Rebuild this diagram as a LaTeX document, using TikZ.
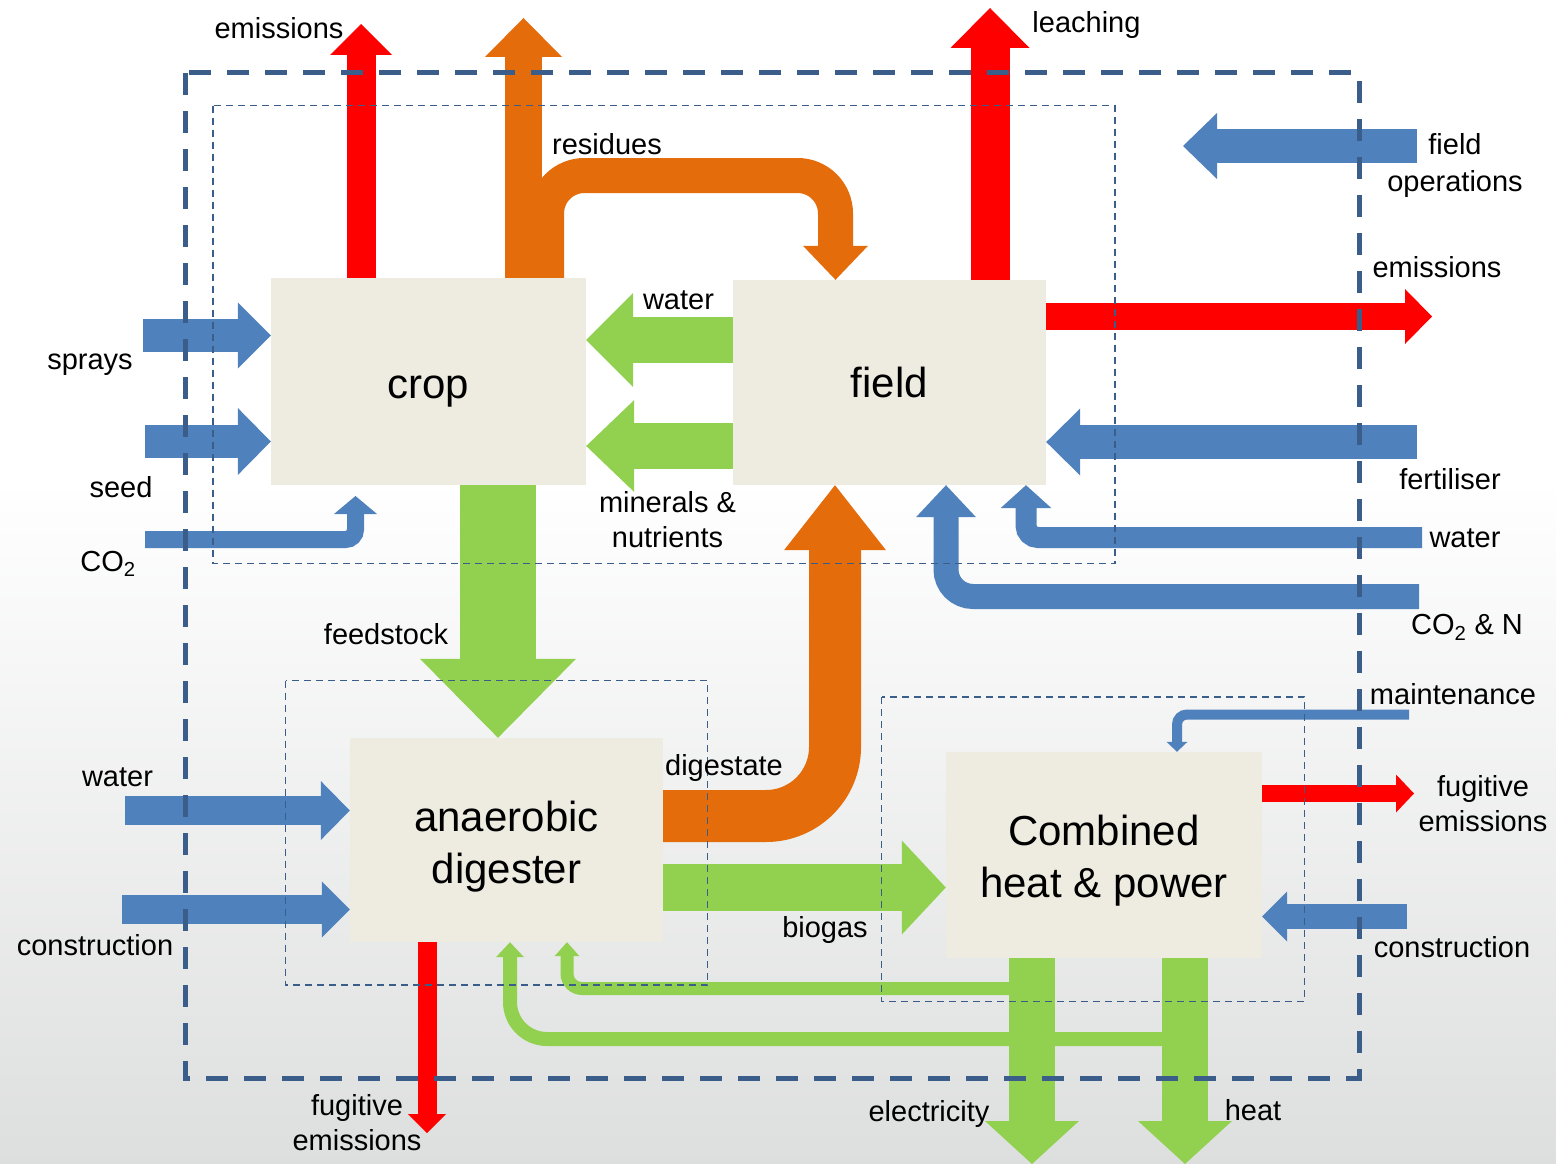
\documentclass[tikz,border=0pt]{standalone}
\usepackage{fontspec}
\setmainfont{Liberation Sans}
\usetikzlibrary{arrows.meta,calc}
\newcommand{\OUTERPT}{5pt}
\newcommand{\INNERPT}{1.6pt}
\definecolor{myblue}{rgb}{0.310,0.506,0.741}
\definecolor{mygreen}{rgb}{0.573,0.816,0.314}
\definecolor{myred}{rgb}{1.0,0.0,0.0}
\definecolor{myorange}{rgb}{0.894,0.424,0.039}
\definecolor{mybox}{rgb}{0.933,0.925,0.882}
\definecolor{mydash}{rgb}{0.227,0.365,0.541}
\definecolor{mybottom}{rgb}{0.867,0.875,0.871}
\tikzset{
	blockflow/.style n args={4}{draw=#1,line width=#2,-{Triangle[length=#3,width=#4,line width=0pt]}},
	unitbox/.style={fill=mybox,inner sep=0pt},
	unitname/.style={inner sep=0pt,align=center,font=\fontsize{42}{52}\selectfont},
	lbl/.style={inner sep=0pt,align=center,font=\fontsize{29}{35}\selectfont},
	outerline/.style={draw=mydash,line width=\OUTERPT,dash pattern=on 22pt off 16pt},
	innerline/.style={draw=mydash,line width=\INNERPT,dash pattern=on 7pt off 5pt},
}
\begin{document}
\begin{tikzpicture}[x=1pt,y=-1pt]
	\useasboundingbox (0,0) rectangle (1556,1164);
	\fill[white] (0,0) rectangle (1556,481);
	\shade[top color=white,bottom color=mybottom] (0,480) rectangle (1556,1164);

		%% units
		\node[unitbox,minimum width=315pt,minimum height=207pt] (crop) at (428.5,381.5) {};
		\node[unitbox,minimum width=313pt,minimum height=205pt] (field) at (889.5,382.5) {};
		\node[unitbox,minimum width=313pt,minimum height=204pt] (digester) at (506.5,840) {};
		\node[unitbox,minimum width=316pt,minimum height=206pt] (chp) at (1104,855) {};
		\node[unitname] (cropname) at ($(crop.center)+(0,10)$) {crop};
		\node[unitname] (fieldname) at (field.center) {field};
		\node[unitname] (digname) at ($(digester.center)+(0,7)$) {anaerobic\\digester};
		\node[unitname] (chpname) at ($(chp.center)+(0,6)$) {Combined\\heat \& power};

		%% free ends
		\coordinate (emtop) at (361,24);
		\coordinate (restop) at (523.5,18);
		\coordinate (resbend) at (546.5,175.5);
		\coordinate (resend) at (835.5,282);
		\coordinate (leach) at (990,8);
		\coordinate (fopsin) at (1417,146);
		\coordinate (fopsout) at (1183,146);
		\coordinate (femout) at (1432,316.5);
		\coordinate (spraysin) at (143,335.5);
		\coordinate (seedin) at (145,441.5);
		\coordinate (coin) at (145,539.5);
		\coordinate (cotip) at (355.5,496);
		\coordinate (gwrow) at (0,340);
		\coordinate (gmrow) at (0,446);
		\coordinate (fertin) at (1417,442);
		\coordinate (fwin) at (1422,537.5);
		\coordinate (fwcol) at (1026,537.5);
		\coordinate (cnin) at (1419,596.5);
		\coordinate (cncol) at (946,596.5);
		\coordinate (feedcol) at (498,600);
		\coordinate (digcol) at (835,816);
		\coordinate (adwin) at (125,810.5);
		\coordinate (adconin) at (122,909.5);
		\coordinate (adfug) at (427,1133);
		\coordinate (bgrow) at (0,887.5);
		\coordinate (mntin) at (1409,714.5);
		\coordinate (mntcol) at (1177,714.5);
		\coordinate (chpfug) at (1414,793.5);
		\coordinate (chpcon) at (1407,916.5);
		\coordinate (elec) at (1032,1164);
		\coordinate (heatout) at (1185,1164);
		\coordinate (loopa) at (1009,988.5);
		\coordinate (loopacol) at (567,988.5);
		\coordinate (loopb) at (1163,1039);
		\coordinate (loopbcol) at (510,1039);

		%% blue inputs
		\draw[blockflow={myblue}{34pt}{34pt}{66pt}] (fopsin) -- (fopsout);
		\draw[blockflow={myblue}{33pt}{33pt}{66pt}] (spraysin) -- (crop.west |- spraysin);
		\draw[blockflow={myblue}{33pt}{33pt}{67pt}] (seedin) -- (crop.west |- seedin);
		\draw[blockflow={myblue}{17pt}{18pt}{43pt},rounded corners=10pt] (coin) -| (cotip);
		\draw[blockflow={myblue}{34pt}{34pt}{67pt}] (fertin) -- (field.east |- fertin);
		\draw[blockflow={myblue}{21pt}{23pt}{51pt},rounded corners=12pt] (fwin) -| (field.south -| fwcol);
		\draw[blockflow={myblue}{25pt}{32pt}{60pt},rounded corners=27pt] (cnin) -| (field.south -| cncol);
		\draw[blockflow={myblue}{29pt}{29pt}{59pt}] (adwin) -- (digester.west |- adwin);
		\draw[blockflow={myblue}{29pt}{28pt}{56pt}] (adconin) -- (digester.west |- adconin);
		\draw[blockflow={myblue}{10pt}{10pt}{21pt},rounded corners=10pt] (mntin) -| (chp.north -| mntcol);
		\draw[blockflow={myblue}{25pt}{25pt}{50pt}] (chpcon) -- (chp.east |- chpcon);

		%% red losses
		\draw[blockflow={myred}{29pt}{31pt}{62pt}] (crop.north -| emtop) -- (emtop);
		\draw[blockflow={myred}{39pt}{40pt}{79pt}] (field.north -| leach) -- (leach);
		\draw[blockflow={myred}{27pt}{27pt}{55pt}] (field.east |- femout) -- (femout);
		\draw[blockflow={myred}{19pt}{19pt}{38pt}] (digester.south -| adfug) -- (adfug);
		\draw[blockflow={myred}{17pt}{18pt}{38pt}] (chp.east |- chpfug) -- (chpfug);

		%% orange residues and digestate
		\draw[blockflow={myorange}{37pt}{39pt}{77pt}] (crop.north -| restop) -- (restop);
		\draw[blockflow={myorange}{35pt}{34pt}{65pt},rounded corners=38pt] (crop.north -| resbend) -- (resbend) -| (field.north -| resend);
		\draw[blockflow={myorange}{52pt}{65pt}{102pt},rounded corners=69pt] (digester.east |- digcol) -| (field.south -| digcol);

		%% green flows
		\draw[blockflow={mygreen}{46pt}{47pt}{94pt}] (field.west |- gwrow) -- (crop.east |- gwrow);
		\draw[blockflow={mygreen}{46pt}{48pt}{92pt}] (field.west |- gmrow) -- (crop.east |- gmrow);
		\draw[blockflow={mygreen}{76pt}{79pt}{156pt}] (crop.south -| feedcol) -- (digester.north -| feedcol);
		\draw[blockflow={mygreen}{47pt}{44pt}{94pt}] (digester.east |- bgrow) -- (chp.west |- bgrow);
		\draw[blockflow={mygreen}{13pt}{14pt}{25pt},rounded corners=15pt] (loopa) -| (digester.south -| loopacol);
		\draw[blockflow={mygreen}{14pt}{15pt}{28pt},rounded corners=37pt] (loopb) -| (digester.south -| loopbcol);
		\draw[blockflow={mygreen}{46pt}{43pt}{94pt}] (chp.south -| elec) -- (elec);
		\draw[blockflow={mygreen}{46pt}{43pt}{94pt}] (chp.south -| heatout) -- (heatout);

		%% boundaries
		\draw[outerline] (185,73) rectangle (1359,1078);
		\draw[innerline] (213,105.5) rectangle (1115,563.5);
		\draw[innerline] (285.5,680.5) rectangle (707.5,985);
		\draw[innerline] (881.5,697) rectangle (1304.5,1001.5);

		%% labels
		\node[lbl] (lemtop) at (279,28) {emissions};
		\node[lbl] (lres) at (607,144) {residues};
		\node[lbl] (lleach) at (1086.5,25) {leaching};
		\node[lbl,font=\fontsize{29}{37}\selectfont] (lfops) at (1455,166) {field\\operations};
		\node[lbl] (lfem) at (1437,267.5) {emissions};
		\node[lbl] (lsprays) at (90,364.5) {sprays};
		\node[lbl] (lseed) at (121,487) {seed};
		\node[lbl] (lco) at (108,564) {CO\textsubscript{2}};
		\node[lbl] (lgw) at (678.5,300) {water};
		\node[lbl] (lgm) at (667.5,519.5) {minerals \&\\nutrients};
		\node[lbl] (lfert) at (1450,479) {fertiliser};
		\node[lbl] (lfw) at (1465,538.5) {water};
		\node[lbl] (lcn) at (1467,627.5) {CO\textsubscript{2} \& N};
		\node[lbl] (lmnt) at (1453,694) {maintenance};
		\node[lbl] (lfeed) at (386,634) {feedstock};
		\node[lbl] (ldig) at (724,768) {digestate};
		\node[lbl] (ladw) at (117.5,777.5) {water};
		\node[lbl] (ladcon) at (95,945) {construction};
		\node[lbl] (ladfug) at (357,1123) {fugitive\\emissions};
		\node[lbl] (lbg) at (825,930) {biogas};
		\node[lbl] (lchpfug) at (1483,803.5) {fugitive\\emissions};
		\node[lbl] (lchpcon) at (1452,947.5) {construction};
		\node[lbl] (lelec) at (929,1114) {electricity};
		\node[lbl] (lheat) at (1253,1110) {heat};

	\end{tikzpicture}
\end{document}
